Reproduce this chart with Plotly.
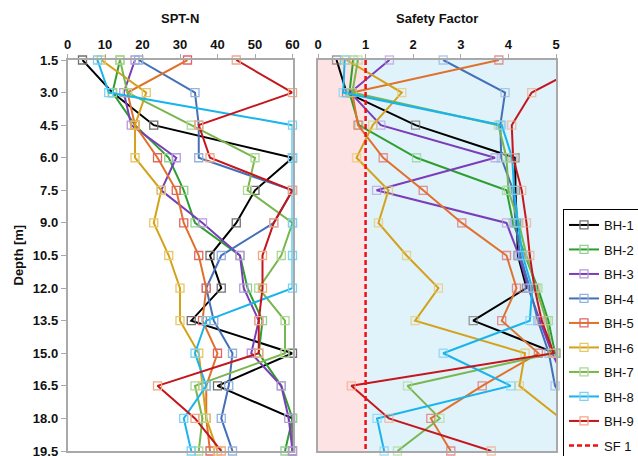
import plotly.graph_objects as go

# Depth of each test level [m]
depth = [1.5, 3.0, 4.5, 6.0, 7.5, 9.0, 10.5, 12.0, 13.5, 15.0, 16.5, 18.0, 19.5]

boreholes = ["BH-1", "BH-2", "BH-3", "BH-4", "BH-5", "BH-6", "BH-7", "BH-8", "BH-9"]

# SPT blow counts per borehole
spt_bh1 = [4, 12, 23, 60, 50, 45, 38, 41, 33, 60, 40, 60, 60]
spt_bh2 = [14, 12, 18, 27, 31, 34, 46, 48, 52, 51, 57, 60, 58]
spt_bh3 = [18, 15, 17, 29, 25, 36, 46, 47, 51, 49, 57, 59, 60]
spt_bh4 = [19, 34, 35, 35, 60, 55, 41, 37, 39, 44, 43, 41, 44]
spt_bh5 = [32, 16, 18, 24, 29, 31, 35, 37, 36, 40, 37, 37, 38]
spt_bh6 = [9, 21, 18, 18, 25, 23, 27, 30, 30, 35, 36, 37, 40]
spt_bh7 = [14, 16, 33, 50, 48, 60, 57, 51, 58, 58, 34, 36, 35]
spt_bh8 = [8, 11, 60, 60, 60, 60, 60, 60, 37, 34, 37, 31, 33]
spt_bh9 = [45, 60, 35, 38, 60, 55, 52, 52, 51, 51, 24, 34, 41]

# Liquefaction safety factor per borehole
sf_bh1 = [0.39, 0.60, 2.05, 4.14, 4.15, 4.17, 4.20, 4.38, 3.26, 5.00, 5.60, 5.90, 5.90]
sf_bh2 = [0.74, 0.66, 0.86, 2.07, 3.96, 4.10, 4.35, 4.62, 4.84, 4.98, 5.40, 5.90, 5.70]
sf_bh3 = [1.50, 0.68, 1.32, 3.72, 1.23, 3.96, 4.22, 4.42, 4.66, 4.92, 5.25, 5.90, 6.00]
sf_bh4 = [2.63, 3.93, 3.83, 3.85, 4.10, 4.15, 4.25, 4.45, 4.62, 4.85, 4.98, 5.40, 5.60]
sf_bh5 = [3.80, 0.72, 0.84, 1.37, 2.21, 3.02, 3.96, 4.17, 3.86, 4.63, 3.45, 2.37, 2.79]
sf_bh6 = [0.60, 1.76, 1.15, 0.81, 1.48, 1.27, 1.86, 2.53, 2.04, 4.35, 4.23, 5.10, 5.80]
sf_bh7 = [0.84, 0.72, 3.79, 3.96, 4.00, 4.22, 4.38, 4.58, 4.80, 4.92, 1.88, 2.56, 1.67]
sf_bh8 = [0.56, 0.53, 3.86, 4.08, 4.12, 4.20, 4.30, 4.50, 4.45, 2.63, 4.05, 1.24, 1.39]
sf_bh9 = [5.80, 4.49, 4.07, 4.10, 4.28, 4.38, 4.45, 4.55, 4.70, 4.95, 0.70, 1.49, 3.64]

spt_ticks = [0, 10, 20, 30, 40, 50, 60]
sf_ticks = [0, 1, 2, 3, 4, 5]
SF_LIMIT = 1.0
SF_MAX = 5.0

spt_data = [spt_bh1, spt_bh2, spt_bh3, spt_bh4, spt_bh5, spt_bh6, spt_bh7, spt_bh8, spt_bh9]
sf_data = [sf_bh1, sf_bh2, sf_bh3, sf_bh4, sf_bh5, sf_bh6, sf_bh7, sf_bh8, sf_bh9]

line_colors = ["#000000", "#2e9e2e", "#7a3db8", "#4470b8", "#e0712a",
               "#d3a21a", "#78b64e", "#18b4ec", "#c4161c"]
marker_colors = ["#707070", "#8fd38f", "#b89ade", "#93b2de", "#e46464",
                 "#e8c766", "#afd894", "#78d3f5", "#f3a884"]

W, H = 638, 456
L_SPT, R_SPT = 67.5, 292.5
L_SF, R_SF = 318.0, 556.0
TOP, BOT = 60.0, 451.0

def px(v):
    return v / W

def py(v):
    return 1 - v / H

fig = go.Figure()

for name, spt, sf, lc, mc in zip(boreholes, spt_data, sf_data, line_colors, marker_colors):
    fig.add_trace(go.Scatter(
        x=spt, y=depth, xaxis="x", yaxis="y", name=name, legendgroup=name,
        mode="lines+markers", cliponaxis=False,
        line=dict(color=lc, width=2),
        marker=dict(symbol="square-open", size=8, color=mc, line=dict(width=1.3, color=mc)),
    ))
    sizes = [8 if v <= SF_MAX else 0 for v in sf]
    fig.add_trace(go.Scatter(
        x=sf, y=depth, xaxis="x2", yaxis="y2", name=name, legendgroup=name,
        showlegend=False, mode="lines+markers", cliponaxis=False,
        line=dict(color=lc, width=2),
        marker=dict(symbol="square-open", size=sizes, color=mc, line=dict(width=1.3, color=mc)),
    ))

fig.add_trace(go.Scatter(
    x=[SF_LIMIT, SF_LIMIT], y=[depth[0], depth[-1]], xaxis="x2", yaxis="y2",
    name="SF 1", legendgroup="SF 1", mode="lines",
    line=dict(color="#ee1111", width=2.5, dash="5px,3px"),
))

# shaded zones behind the safety factor panel
fig.add_shape(type="rect", xref="x2", yref="y2", x0=0, x1=SF_LIMIT, y0=depth[0], y1=depth[-1],
              fillcolor="#fde3e3", line=dict(width=0), layer="below")
fig.add_shape(type="rect", xref="x2", yref="y2", x0=SF_LIMIT, x1=SF_MAX, y0=depth[0], y1=depth[-1],
              fillcolor="#e0f2fa", line=dict(width=0), layer="below")

tick_font = dict(family="Liberation Sans, Arial, sans-serif", size=13, color="#111111", weight="bold")
axis_gray = "#a9a9a9"

common_x = dict(side="top", showline=True, mirror=True, linecolor=axis_gray, linewidth=1.5,
                ticks="outside", ticklen=4, tickcolor=axis_gray, showgrid=False, zeroline=False,
                tickfont=tick_font, automargin=False, ticklabeloverflow="allow")

fig.update_layout(
    width=W, height=H,
    margin=dict(l=0, r=0, t=0, b=0, autoexpand=False),
    paper_bgcolor="white", plot_bgcolor="rgba(0,0,0,0)",
    xaxis=dict(domain=[px(L_SPT), px(R_SPT)], range=[0, 60], tickvals=spt_ticks, anchor="y", **common_x),
    xaxis2=dict(domain=[px(L_SF), px(R_SF)], range=[0, 5], tickvals=sf_ticks, anchor="y2", **common_x),
    yaxis=dict(domain=[py(BOT), py(TOP)], range=[depth[-1], depth[0]], tickvals=depth,
               tickformat=".1f", showline=True, mirror=True, linecolor=axis_gray, linewidth=1.5,
               ticks="outside", ticklen=5, tickcolor=axis_gray, showgrid=False, zeroline=False,
               tickfont=tick_font, anchor="x", automargin=False, ticklabeloverflow="allow"),
    yaxis2=dict(domain=[py(BOT), py(TOP)], range=[depth[-1], depth[0]], matches="y",
                showticklabels=False, showline=True, mirror=True, linecolor=axis_gray, linewidth=1.5,
                ticks="", showgrid=False, zeroline=False, anchor="x2", automargin=False),
    legend=dict(x=px(563), y=py(209), xanchor="left", yanchor="top",
                bordercolor="#000000", borderwidth=1, bgcolor="white",
                font=dict(family="Liberation Sans, Arial, sans-serif", size=13, color="#111111"),
                tracegroupgap=4.6, traceorder="grouped"),
    annotations=[
        dict(text="SPT-N", x=px((L_SPT + R_SPT) / 2), y=py(19), xref="paper", yref="paper",
             showarrow=False, xanchor="center", yanchor="middle", font=tick_font),
        dict(text="Safety Factor", x=px((L_SF + R_SF) / 2), y=py(19), xref="paper", yref="paper",
             showarrow=False, xanchor="center", yanchor="middle", font=tick_font),
        dict(text="Depth [m]", x=px(18), y=py((TOP + BOT) / 2), xref="paper", yref="paper",
             showarrow=False, textangle=-90, xanchor="center", yanchor="middle", font=tick_font),
    ],
)

fig.write_html("out.html")
